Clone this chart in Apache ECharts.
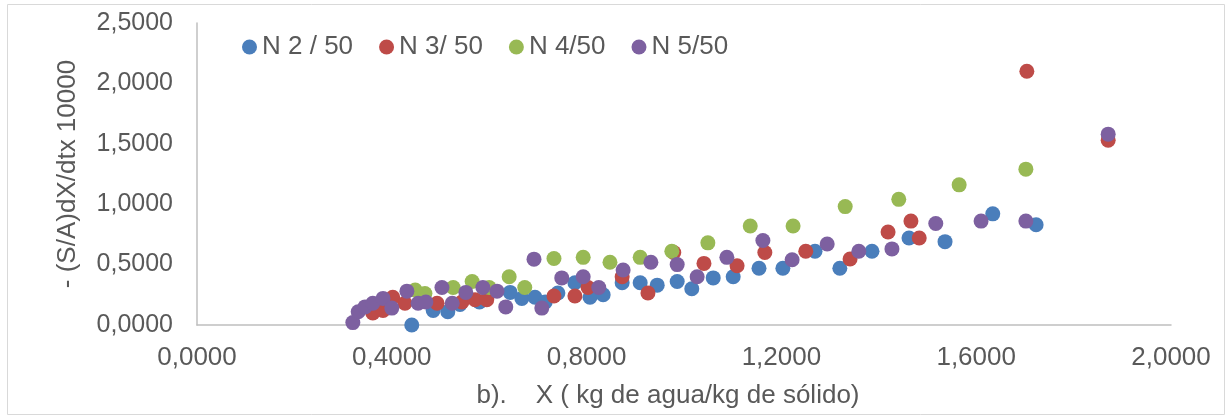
<!DOCTYPE html>
<html>
<head>
<meta charset="utf-8">
<script src="https://cdn.jsdelivr.net/npm/echarts@6/dist/echarts.min.js"></script>
<style>
html,body{margin:0;padding:0;background:#fff;}
#c{width:1228px;height:416px;}
</style>
</head>
<body>
<div id="c"></div>
<script>
const seriesNames = ['N 2 / 50', 'N 3/ 50', 'N 4/50', 'N 5/50'];
const xTicks = [0, 0.4, 0.8, 1.2, 1.6, 2.0];
const yTicks = [0, 0.5, 1.0, 1.5, 2.0, 2.5];

const n2 = [
  [0.441,0.00],[0.485,0.12],[0.515,0.11],[0.540,0.17],[0.580,0.19],[0.643,0.27],
  [0.667,0.22],[0.694,0.23],[0.715,0.19],[0.741,0.265],[0.776,0.35],[0.807,0.23],
  [0.834,0.25],[0.873,0.35],[0.910,0.35],[0.945,0.33],[0.986,0.36],[1.016,0.30],
  [1.060,0.39],[1.101,0.40],[1.154,0.47],[1.203,0.47],[1.269,0.61],[1.320,0.47],
  [1.386,0.61],[1.462,0.72],[1.536,0.69],[1.634,0.92],[1.723,0.83]
];
const n3 = [
  [0.361,0.10],[0.382,0.12],[0.402,0.23],[0.427,0.18],[0.493,0.18],[0.544,0.19],
  [0.571,0.21],[0.595,0.21],[0.733,0.24],[0.776,0.24],[0.803,0.31],[0.873,0.40],
  [0.926,0.265],[0.979,0.60],[1.041,0.51],[1.109,0.49],[1.166,0.60],[1.250,0.61],
  [1.341,0.546],[1.419,0.77],[1.466,0.86],[1.483,0.72],[1.704,2.10],[1.871,1.53]
];
const n4 = [
  [0.448,0.29],[0.468,0.26],[0.526,0.31],[0.565,0.36],[0.600,0.31],[0.641,0.40],
  [0.673,0.31],[0.733,0.55],[0.793,0.56],[0.848,0.52],[0.910,0.56],[0.975,0.61],
  [1.049,0.68],[1.136,0.82],[1.224,0.82],[1.331,0.98],[1.441,1.04],[1.565,1.16],
  [1.702,1.29]
];
const n5 = [
  [0.320,0.02],[0.331,0.11],[0.345,0.15],[0.361,0.18],[0.382,0.22],[0.400,0.14],
  [0.431,0.28],[0.454,0.18],[0.470,0.19],[0.503,0.31],[0.524,0.18],[0.552,0.27],
  [0.587,0.31],[0.616,0.28],[0.634,0.15],[0.692,0.545],[0.708,0.14],[0.749,0.39],
  [0.793,0.40],[0.825,0.31],[0.875,0.455],[0.932,0.52],[0.986,0.50],[1.027,0.40],
  [1.088,0.56],[1.162,0.70],[1.222,0.54],[1.294,0.67],[1.359,0.61],[1.427,0.63],
  [1.517,0.84],[1.610,0.86],[1.702,0.86],[1.871,1.58]
];

const colors = ['#4A7EBB', '#BE4B48', '#98B954', '#7D60A0'];
const fmt = v => v.toFixed(4).replace('.', ',');
const font = 'Liberation Sans, Arial, sans-serif';
const FS = 26;

const chart = echarts.init(document.getElementById('c'));
const datasets = [n2, n3, n4, n5];
chart.setOption({
  animation: false,
  color: colors,
  textStyle: { fontFamily: font },
  graphic: [{
    type: 'rect', left: 5, top: 2,
    shape: { width: 1217, height: 410 },
    style: { fill: 'none', stroke: '#D9D9D9', lineWidth: 1 }
  }],
  grid: { left: 197, right: 57, top: 23, bottom: 91, containLabel: false },
  legend: {
    left: 237, top: 29,
    icon: 'circle', itemWidth: 15, itemHeight: 15, itemGap: 26,
    textStyle: { fontSize: FS, color: '#595959', fontFamily: font },
    data: seriesNames
  },
  xAxis: {
    type: 'value', min: xTicks[0], max: xTicks[xTicks.length - 1], interval: 0.4,
    name: 'b).    X ( kg de agua/kg de sólido)',
    nameLocation: 'middle', nameGap: 58,
    nameTextStyle: { fontSize: FS, color: '#595959', fontFamily: font, padding: [0, 32, 0, 0] },
    axisLine: { show: true, lineStyle: { color: '#BFBFBF', width: 1.5 } },
    axisTick: { show: false },
    splitLine: { show: false },
    axisLabel: { formatter: fmt, fontSize: FS, color: '#595959', margin: 20, fontFamily: font }
  },
  yAxis: {
    type: 'value', min: yTicks[0], max: yTicks[yTicks.length - 1], interval: 0.5,
    name: '- (S/A)dX/dtx 10000',
    nameLocation: 'middle', nameGap: 116, nameRotate: 90,
    nameTextStyle: { fontSize: FS, color: '#595959', fontFamily: font },
    axisLine: { show: true, lineStyle: { color: '#BFBFBF', width: 1.5 } },
    axisTick: { show: false },
    splitLine: { show: false },
    axisLabel: { formatter: fmt, fontSize: 25, color: '#595959', margin: 24, fontFamily: font }
  },
  series: datasets.map((d, i) => ({
    name: seriesNames[i], type: 'scatter', data: d, symbolSize: 15,
    itemStyle: { opacity: 1 }
  }))
});
</script>
</body>
</html>
